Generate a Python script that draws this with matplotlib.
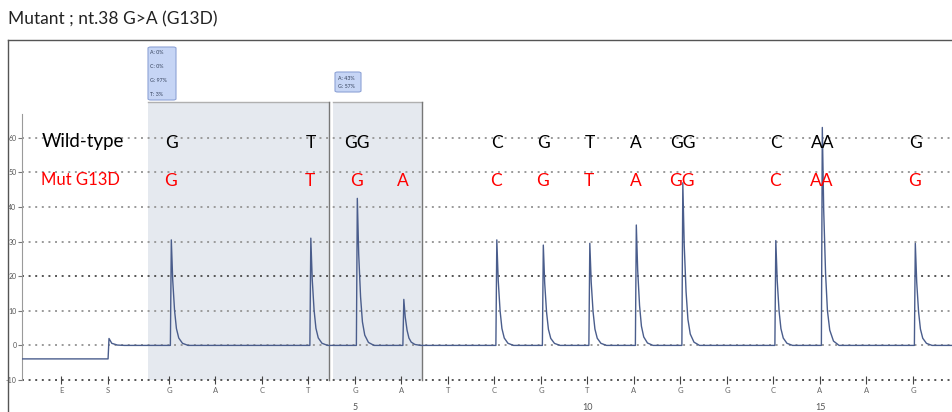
import matplotlib
matplotlib.use("Agg")
import matplotlib.pyplot as plt
from matplotlib.lines import Line2D
from matplotlib.patches import FancyBboxPatch

plt.rcParams['font.family'] = ['Lato', 'DejaVu Sans']

# dispensation order (E, S, then 17 nucleotide dispensations)
disp_labels = ['E', 'S', 'G', 'A', 'C', 'T', 'G', 'A', 'T', 'C',
               'G', 'T', 'A', 'G', 'G', 'C', 'A', 'A', 'G']
disp_pos = [-1.32, -0.31] + list(range(1, 18))

# peak heights for dispensations 1..17
peak_heights = [30.5, 0, 0, 31, 42.5, 13.3, 0, 30.5, 29, 29.5,
                34.8, 47, 0, 30.3, 63, 0, 29.5]

# baseline before / after the substrate (S) step
pre_base = -3.9
s_bump = 2.0

# decay shape of one peak (dx, fraction of height)
peak_shape = [(0.0, 0.0), (0.02, 1.0), (0.05, 0.62), (0.09, 0.33),
              (0.13, 0.16), (0.18, 0.07), (0.26, 0.02), (0.38, 0.0)]

# base calls
wt_calls = [(1, 'G'), (4, 'T'), (5, 'GG'), (8, 'C'), (9, 'G'), (10, 'T'),
            (11, 'A'), (12, 'GG'), (14, 'C'), (15, 'AA'), (17, 'G')]
mut_calls = [(1, 'G'), (4, 'T'), (5, 'G'), (6, 'A'), (8, 'C'), (9, 'G'),
             (10, 'T'), (11, 'A'), (12, 'GG'), (14, 'C'), (15, 'AA'), (17, 'G')]

# analysed variable positions and their allele frequencies
regions = [(0.55, 4.44), (4.53, 6.44)]
box1_lines = ['A: 0%', 'C: 0%', 'G: 97%', 'T: 3%']
box2_lines = ['A: 43%', 'G: 57%']

yticks = [60, 50, 40, 30, 20, 10, 0, -10]

W, H = 952, 412
fig = plt.figure(figsize=(W / 100, H / 100), dpi=100)
ax = fig.add_axes([22 / W, 32 / H, 930 / W, 278.5 / H])
xmin, xmax = -2.161, 17.839
ax.set_xlim(xmin, xmax)
ax.set_ylim(-10, 70.5)

# shaded analysis regions
for x0, x1 in regions:
    ax.fill_between([x0, x1], -10, 70.5, color='#e5e9ef', zorder=0, lw=0)
    ax.plot([x0, x1], [70.5, 70.5], color='#b0b0b0', lw=1.0,
            clip_on=False, zorder=1)
    ax.plot([x1, x1], [70.5, -10], color='#777777', lw=1.0,
            clip_on=False, zorder=1)

# dotted grid
for y in yticks:
    dark = y in (20, -10)
    ax.plot([xmin, xmax], [y, y], color='#555555' if dark else '#9a9a9a',
            lw=1.4, ls=(0, (1, 2.4)), clip_on=False, zorder=1)

# trace
xs = [xmin, disp_pos[1]]
ys = [pre_base, pre_base]
sx = disp_pos[1]
xs += [sx + 0.02, sx + 0.08, sx + 0.2, sx + 0.35]
ys += [s_bump, 0.6, 0.1, 0.0]
for i, h in enumerate(peak_heights, start=1):
    if h <= 0:
        continue
    x0 = i + 0.03
    for dx, f in peak_shape:
        xs.append(x0 + dx)
        ys.append(h * f)
xs.append(xmax)
ys.append(0.0)
ax.plot(xs, ys, color='#4a5d8c', lw=1.0, zorder=3)

# base calls
for i, s in wt_calls:
    ax.text(i + 0.05, 58.6, s, color='black', fontsize=12.5,
            ha='center', va='center', zorder=4)
for i, s in mut_calls:
    ax.text(i + 0.03, 47.4, s, color='red', fontsize=12.5,
            ha='center', va='center', zorder=4)
ax.text(-0.85, 58.8, 'Wild-type', color='black', fontsize=13.5,
        ha='center', va='center', zorder=4)
ax.text(-0.91, 47.8, 'Mut G13D', color='red', fontsize=12,
        ha='center', va='center', zorder=4)

# axes styling
for side in ['top', 'right', 'bottom']:
    ax.spines[side].set_visible(False)
ax.spines['left'].set_color('#9a9a9a')
ax.spines['left'].set_bounds(-10, 67)
ax.set_yticks(yticks)
ax.set_yticklabels([str(v) for v in yticks])
ax.tick_params(axis='y', length=3, width=0.8, color='#777777',
               labelsize=5, labelcolor='#555555', pad=1)
ax.set_xticks(disp_pos)
ax.set_xticklabels(disp_labels)
ax.tick_params(axis='x', length=6, width=0.8, direction='inout',
               color='#444444', labelsize=5.5, labelcolor='#666666', pad=2)
xtrans = ax.get_xaxis_transform()
for n in (5, 10, 15):
    ax.text(n, -0.097, str(n), transform=xtrans, fontsize=6.5,
            color='#555555', ha='center', va='center')

# allele frequency boxes above the regions
def info_box(px0, py0, pw, ph, lines, line_y):
    fx, fy = px0 / W, 1 - (py0 + ph) / H
    box = FancyBboxPatch((fx, fy), pw / W, ph / H,
                         boxstyle='round,pad=0,rounding_size=0.003',
                         transform=fig.transFigure, fc='#c6d5f5',
                         ec='#8ea3d6', lw=0.8)
    fig.add_artist(box)
    for s, ly in zip(lines, line_y):
        fig.text((px0 + 2.5) / W, 1 - ly / H, s, fontsize=3.8,
                 color='#33405a', va='center', ha='left')

info_box(148, 47, 28, 53, box1_lines, [52, 66, 80, 94])
info_box(335, 72, 26, 20, box2_lines, [78, 86])

# outer frame and title
fig.add_artist(Line2D([8 / W, 8 / W], [0, 1 - 40 / H], color='#555555',
                      lw=1.0, transform=fig.transFigure))
fig.add_artist(Line2D([8 / W, 1], [1 - 40 / H, 1 - 40 / H], color='#555555',
                      lw=1.0, transform=fig.transFigure))
fig.text(8 / W, 1 - 19 / H, 'Mutant ; nt.38 G>A (G13D)', fontsize=12.5,
         color='#222222', va='center', ha='left')

fig.savefig('out.png', dpi=100)
